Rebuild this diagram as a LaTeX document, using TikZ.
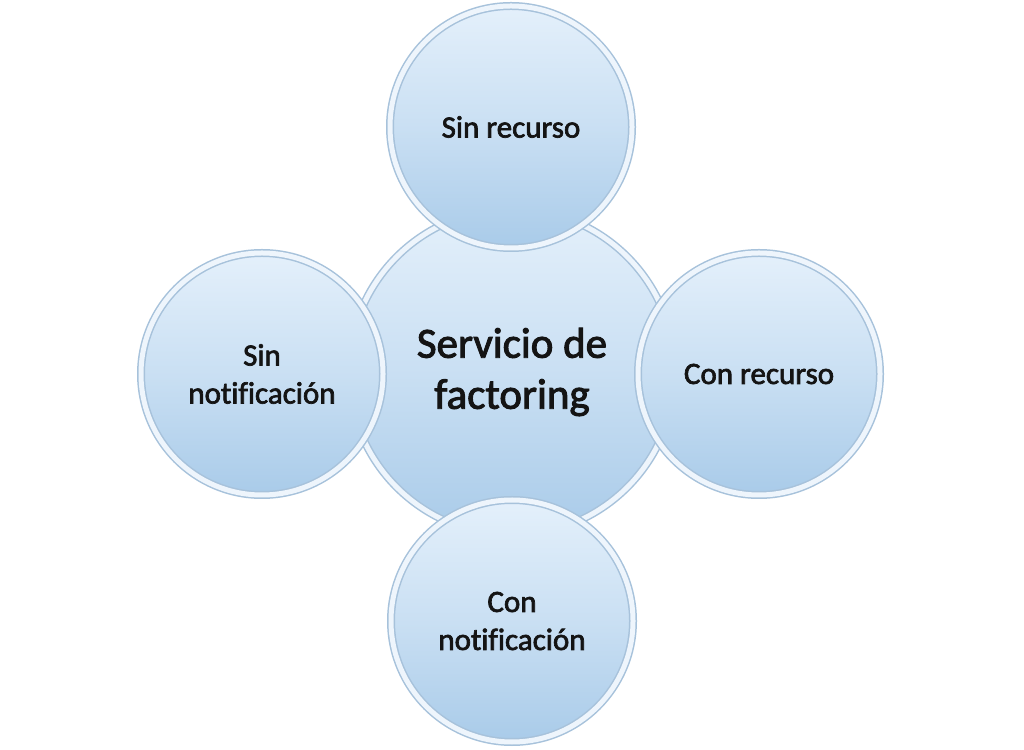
\documentclass[tikz,border=0pt]{standalone}
\usepackage{fontspec}
\setmainfont{Carlito}[Ligatures=NoCommon]
\newfontfamily\medfont{Carlito}[FakeBold=2.2, Ligatures=NoCommon]
\definecolor{bubtop}{HTML}{E4F0FB}
\definecolor{bubbot}{HTML}{A9CBE9}
\definecolor{rimout}{HTML}{A7C2DB}
\definecolor{rimin}{HTML}{EEF5FC}
\tikzset{
  bub/.style={circle, inner sep=0pt, align=center, text=black!92,
    top color=bubtop, bottom color=bubbot, middle color=bubtop!55!bubbot,
    draw=rimout, line width=8pt,
    postaction={draw=rimin, line width=5pt},
    font=\medfont\fontsize{31}{38}\selectfont},
  small/.style={bub, minimum size=242pt},
  big/.style={bub, minimum size=326pt, font=\medfont\fontsize{43}{51}\selectfont}
}
\begin{document}
\begin{tikzpicture}[x=1pt,y=1pt]
\useasboundingbox[fill=white] (0,0) rectangle (1024,749);
\node[big] (c) at (512,377) {Servicio de\\factoring};
\node[small] (t) at (511,622) {Sin recurso};
\node[small] (l) at (262,375) {Sin\\notificación};
\node[small] (r) at (759,375) {Con recurso};
\node[small] (b) at (512,128) {Con\\notificación};
\end{tikzpicture}
\end{document}
